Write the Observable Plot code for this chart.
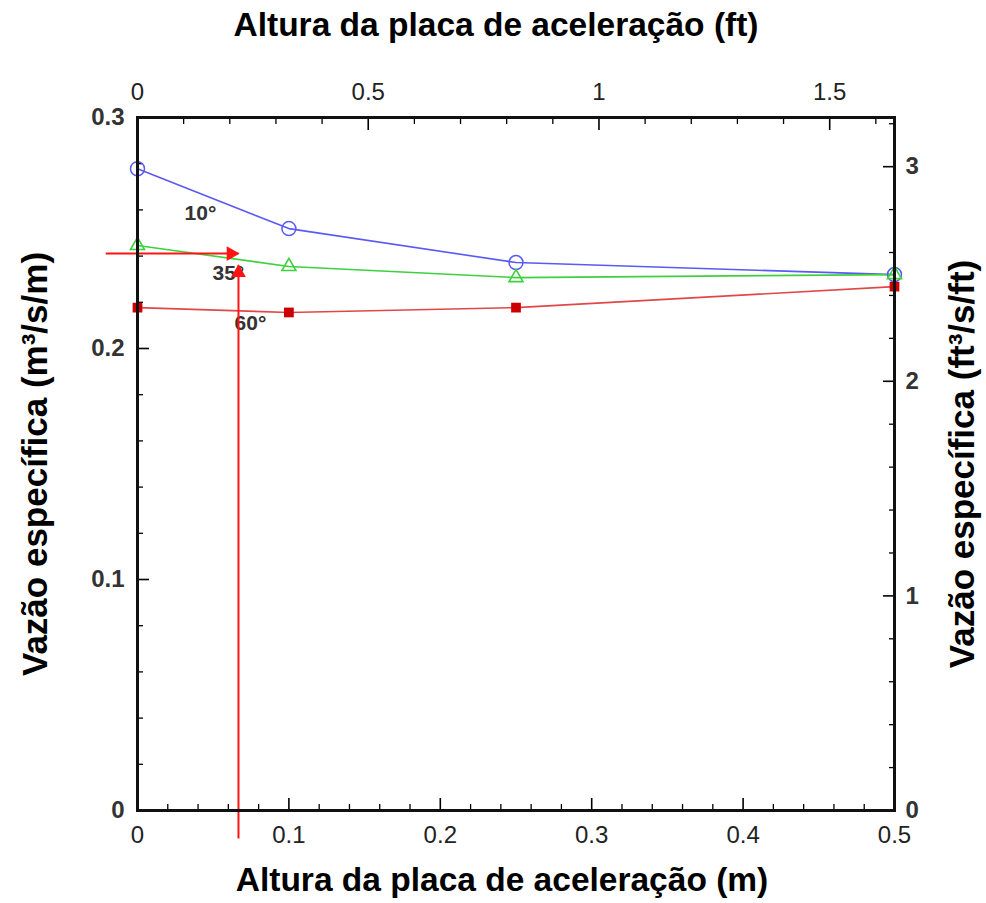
<!DOCTYPE html>
<html><head><meta charset="utf-8">
<script src="https://cdn.jsdelivr.net/npm/d3@7"></script>
<script src="https://cdn.jsdelivr.net/npm/@observablehq/plot@0.6"></script>
<style>body{margin:0;background:#fff} #chart svg{font-family:"Liberation Sans",Arial,sans-serif;background:#fff}</style>
</head><body><div id="chart"></div>
<script>
// ---- data ----
const heightsM = [0, 0.1, 0.25, 0.5];
const flow10 = [0.2778, 0.2519, 0.2372, 0.2320];
const flow35 = [0.2446, 0.2355, 0.2307, 0.2320];
const flow60 = [0.2177, 0.2156, 0.2177, 0.2268];
const seriesNames = ["10°", "35°", "60°"];
const labelX = [0.0416, 0.0600, 0.0746];
const labelY = [0.2584, 0.2325, 0.2108];

// reading arrows
const arrowH = {x1: -0.021, x2: 0.0667, y: 0.2411};
const arrowV = {x: 0.0667, y1: -0.0121, y2: 0.236};

// axes
const bottomTicks = [0, 0.1, 0.2, 0.3, 0.4, 0.5];
const bottomMinor = [0.02,0.04,0.06,0.08,0.12,0.14,0.16,0.18,0.22,0.24,0.26,0.28,0.32,0.34,0.36,0.38,0.42,0.44,0.46,0.48];
const leftTicks = [0, 0.1, 0.2, 0.3];
const leftMinor = [0.02,0.04,0.06,0.08,0.12,0.14,0.16,0.18,0.22,0.24,0.26,0.28];
const topTicksFt = [0, 0.5, 1, 1.5];
const topMinorFt = [0.1,0.2,0.3,0.4,0.6,0.7,0.8,0.9,1.1,1.2,1.3,1.4,1.6];
const rightTicksFt = [0, 1, 2, 3];
const rightMinorFt = [0.2,0.4,0.6,0.8,1.2,1.4,1.6,1.8,2.2,2.4,2.6,2.8,3.2];
const M_PER_FT = 0.3048;
const FT2_PER_M2 = 10.7639;

const titleTop = "Altura da placa de aceleração (ft)";
const titleBottom = "Altura da placa de aceleração (m)";
const titleLeft = "Vazão específica (m³/s/m)";
const titleRight = "Vazão específica (ft³/s/ft)";

const series = [flow10, flow35, flow60];
const rows = series.flatMap((vals, s) => vals.map((v, i) => ({series: seriesNames[s], x: heightsM[i], y: v})));
const bySeries = name => rows.filter(d => d.series === name);

const BLUE = "#5a5af5", GREEN = "#3ed13e", REDLINE = "#e04848", REDSQ = "#cc0000", ARROW = "#ff1414";
const fmt = v => String(+v.toFixed(2));

const chart = Plot.plot({
  width: 986, height: 903,
  marginLeft: 137, marginRight: 92, marginTop: 117, marginBottom: 93,
  x: {domain: [0, 0.5], label: null},
  y: {domain: [0, 0.3], label: null},
  style: {fontFamily: "Liberation Sans, Arial, sans-serif", background: "#fff"},
  marks: [
    // axes: bottom (m)
    Plot.axisX(bottomTicks, {anchor: "bottom", tickSize: -12, tickPadding: 27, fontSize: 24, fill: "#222", strokeWidth: 1.6, tickFormat: fmt, label: null}),
    Plot.axisX(bottomMinor, {anchor: "bottom", tickSize: -6, fill: "none", strokeWidth: 1.3, label: null}),
    // top (ft)
    Plot.axisX(topTicksFt.map(f => f * M_PER_FT), {anchor: "top", tickSize: -12, tickPadding: 30, fontSize: 24, fill: "#222", strokeWidth: 1.6, tickFormat: d => fmt(d / M_PER_FT), label: null}),
    Plot.axisX(topMinorFt.map(f => f * M_PER_FT), {anchor: "top", tickSize: -6, fill: "none", strokeWidth: 1.3, label: null}),
    // left (m3/s/m)
    Plot.axisY(leftTicks, {anchor: "left", tickSize: -12, tickPadding: 25, fontSize: 24, fontWeight: "bold", fill: "#333", strokeWidth: 1.6, tickFormat: fmt, label: null}),
    Plot.axisY(leftMinor, {anchor: "left", tickSize: -6, fill: "none", strokeWidth: 1.3, label: null}),
    // right (ft3/s/ft)
    Plot.axisY(rightTicksFt.map(f => f / FT2_PER_M2), {anchor: "right", tickSize: -12, tickPadding: 23, fontSize: 24, fontWeight: "bold", fill: "#333", strokeWidth: 1.6, tickFormat: d => fmt(d * FT2_PER_M2), label: null}),
    Plot.axisY(rightMinorFt.map(f => f / FT2_PER_M2), {anchor: "right", tickSize: -6, fill: "none", strokeWidth: 1.3, label: null}),

    // series lines
    Plot.line(bySeries("10°"), {x: "x", y: "y", stroke: BLUE, strokeWidth: 1.6}),
    Plot.line(bySeries("35°"), {x: "x", y: "y", stroke: GREEN, strokeWidth: 1.6}),
    Plot.line(bySeries("60°"), {x: "x", y: "y", stroke: REDLINE, strokeWidth: 1.6}),
    // markers
    Plot.dot(bySeries("10°"), {x: "x", y: "y", symbol: "circle", r: 7, stroke: BLUE, strokeWidth: 1.5, fill: "none"}),
    Plot.dot(bySeries("35°"), {x: "x", y: "y", symbol: "triangle", r: 5.2, stroke: GREEN, strokeWidth: 1.6, fill: "none"}),
    Plot.dot(bySeries("60°"), {x: "x", y: "y", symbol: "square", r: 5.5, fill: REDSQ, stroke: "none"}),

    // series labels
    Plot.text(seriesNames, {x: (d, i) => labelX[i], y: (d, i) => labelY[i], text: d => d, fontSize: 21, fontWeight: "bold", fill: "#333"}),

    // reading arrows
    Plot.link([arrowH], {x1: "x1", x2: "x2", y1: "y", y2: "y", stroke: ARROW, strokeWidth: 2}),
    Plot.dot([arrowH], {x: "x2", y: "y", symbol: "triangle", rotate: 90, r: 5.5, fill: ARROW, dx: -7.5}),
    Plot.link([arrowV], {x1: "x", x2: "x", y1: "y1", y2: "y2", stroke: ARROW, strokeWidth: 2}),
    Plot.dot([arrowV], {x: "x", y: "y2", symbol: "triangle", r: 5.5, fill: ARROW, dy: 7.5}),

    // axis titles
    Plot.text([titleTop], {frameAnchor: "top", dy: -92, dx: -20, text: d => d, textAnchor: "middle", lineAnchor: "middle", fontSize: 33.5, fontWeight: "bold", fill: "#000"}),
    Plot.text([titleBottom], {frameAnchor: "bottom", dy: 70, dx: -14, text: d => d, textAnchor: "middle", lineAnchor: "middle", fontSize: 33.5, fontWeight: "bold", fill: "#000"}),
    Plot.text([titleLeft], {frameAnchor: "left", dx: -102, rotate: -90, text: d => d, textAnchor: "middle", lineAnchor: "middle", fontSize: 35, fontWeight: "bold", fill: "#000"}),
    Plot.text([titleRight], {frameAnchor: "right", dx: 68, rotate: -90, text: d => d, textAnchor: "middle", lineAnchor: "middle", fontSize: 35, fontWeight: "bold", fill: "#000"}),

    Plot.frame({stroke: "#111", strokeWidth: 3})
  ]
});
document.getElementById("chart").appendChild(chart);
</script>
</body></html>
